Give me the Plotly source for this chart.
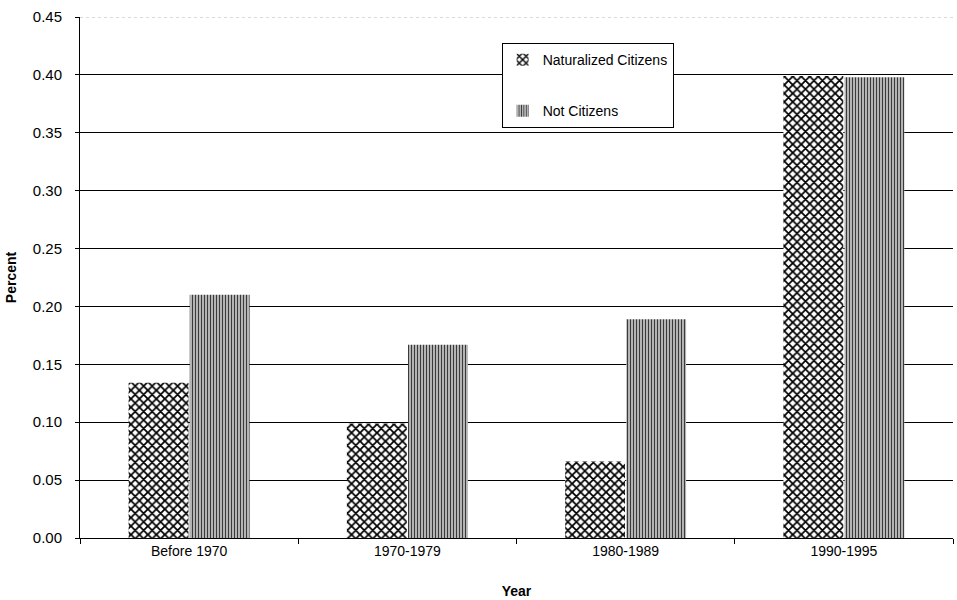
import plotly.graph_objects as go

# Share of immigrants by period of arrival
periods = ["Before 1970", "1970-1979", "1980-1989", "1990-1995"]
naturalized = [0.134, 0.099, 0.066, 0.399]
not_citizens = [0.210, 0.167, 0.189, 0.398]

y_ticks = [0.00, 0.05, 0.10, 0.15, 0.20, 0.25, 0.30, 0.35, 0.40, 0.45]
y_max = y_ticks[-1]

font_family = "Liberation Sans, Arial, sans-serif"

fig = go.Figure()
fig.add_trace(go.Bar(
    x=periods, y=naturalized, name="Naturalized Citizens",
    legendgroup="a",
    marker=dict(
        color="white",
        line=dict(width=0),
        pattern=dict(shape="x", fgcolor="black", bgcolor="white",
                     size=6, solidity=0.5, fgopacity=1),
    ),
))
fig.add_trace(go.Bar(
    x=periods, y=not_citizens, name="Not Citizens",
    legendgroup="b",
    marker=dict(
        color="#bdbdbd",
        line=dict(width=0),
        pattern=dict(shape="|", fgcolor="#3a3a3a", bgcolor="#c2c2c2",
                     size=3, solidity=0.4, fgopacity=1),
    ),
))

# faint top gridline at the upper end of the axis
fig.add_shape(type="line", xref="paper", yref="y", x0=0, x1=1,
              y0=y_max, y1=y_max,
              line=dict(color="#b5b5b5", width=1, dash="dot"))

fig.update_layout(
    width=957, height=600,
    margin=dict(l=80, r=4, t=17, b=62),
    paper_bgcolor="white", plot_bgcolor="white",
    barmode="group", bargap=0.44, bargroupgap=0.02,
    font=dict(family=font_family, size=13, color="black"),
    showlegend=True,
    legend=dict(
        x=0.483, y=0.95, xanchor="left", yanchor="top",
        bgcolor="white", bordercolor="black", borderwidth=1,
        font=dict(size=14), tracegroupgap=30,
        itemwidth=30,
    ),
    xaxis=dict(
        title=dict(text="<b>Year</b>", font=dict(size=14), standoff=28),
        showline=True, linecolor="black", linewidth=1,
        ticks="outside", tickson="boundaries", ticklen=5, tickcolor="black",
        showgrid=False,
        tickfont=dict(size=14),
    ),
    yaxis=dict(
        title=dict(text="<b>Percent</b>", font=dict(size=14), standoff=12),
        range=[0, y_max],
        tickvals=y_ticks,
        ticktext=[f"{v:.2f}" for v in y_ticks],
        showline=True, linecolor="black", linewidth=1,
        ticks="outside", ticklen=4, tickcolor="black",
        ticklabelstandoff=10,
        showgrid=False, zeroline=False,
        tickfont=dict(size=15),
        minor=dict(tickvals=y_ticks[1:-1], showgrid=True,
                   gridcolor="black", gridwidth=1, ticks=""),
    ),
)

fig.write_html("out.html")
